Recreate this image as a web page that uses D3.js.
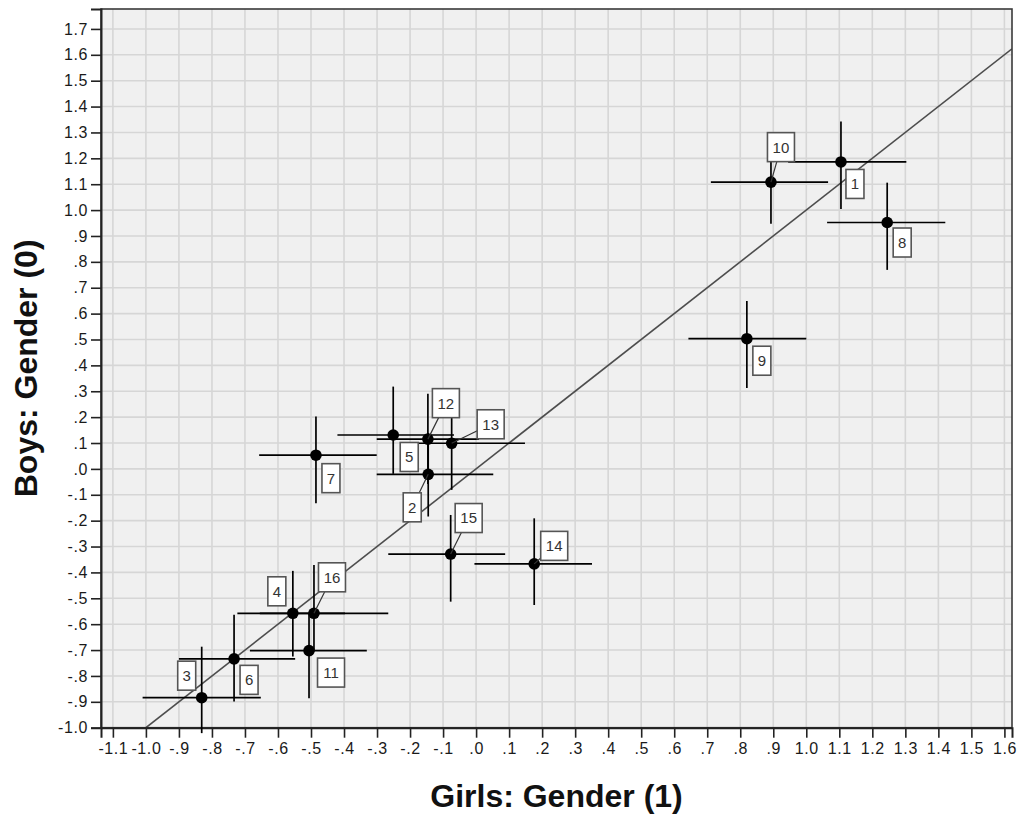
<!DOCTYPE html>
<html>
<head>
<meta charset="utf-8">
<script src="https://cdn.jsdelivr.net/npm/d3@7"></script>
<style>
  html, body { margin: 0; padding: 0; background: #ffffff; }
  svg { display: block; }
  text { font-family: Arial, "Liberation Sans", sans-serif; }
</style>
</head>
<body>
<svg id="chart" width="1017" height="816"></svg>
<script>
// Item identifiers (one marker per item)
const items = [1, 2, 3, 4, 5, 6, 7, 8, 9, 10, 11, 12, 13, 14, 15, 16];

// Estimates for girls (x) and boys (y)
const girls = [1.105, -0.145, -0.831, -0.555, -0.251, -0.733, -0.485, 1.245, 0.820, 0.893, -0.506, -0.146, -0.074, 0.176, -0.077, -0.491];
const boys  = [1.186, -0.021, -0.884, -0.558, 0.131, -0.734, 0.053, 0.952, 0.503, 1.108, -0.702, 0.115, 0.099, -0.367, -0.329, -0.558];

// Interval limits for girls
const girlsLow  = [0.945, -0.301, -1.010, -0.723, -0.420, -0.900, -0.657, 1.063, 0.643, 0.711, -0.685, -0.301, -0.230, -0.005, -0.266, -0.655];
const girlsHigh = [1.303, 0.052, -0.652, -0.397, -0.067, -0.548, -0.301, 1.421, 1.000, 1.066, -0.331, 0.009, 0.148, 0.351, 0.088, -0.266];

// Interval limits for boys
const boysLow  = [1.004, -0.184, -1.021, -0.725, -0.019, -0.899, -0.133, 0.769, 0.313, 0.947, -0.886, -0.058, -0.081, -0.526, -0.513, -0.706];
const boysHigh = [1.342, 0.139, -0.687, -0.394, 0.318, -0.564, 0.202, 1.106, 0.649, 1.284, -0.557, 0.290, 0.234, -0.191, -0.178, -0.371];

// Axis ticks and their labels
const xTicks = [-1.1, -1.0, -0.9, -0.8, -0.7, -0.6, -0.5, -0.4, -0.3, -0.2, -0.1, 0.0, 0.1, 0.2, 0.3, 0.4, 0.5, 0.6, 0.7, 0.8, 0.9, 1.0, 1.1, 1.2, 1.3, 1.4, 1.5, 1.6];
const xTickLabels = ["-1.1", "-1.0", "-.9", "-.8", "-.7", "-.6", "-.5", "-.4", "-.3", "-.2", "-.1", ".0", ".1", ".2", ".3", ".4", ".5", ".6", ".7", ".8", ".9", "1.0", "1.1", "1.2", "1.3", "1.4", "1.5", "1.6"];
const yTicks = [-1.0, -0.9, -0.8, -0.7, -0.6, -0.5, -0.4, -0.3, -0.2, -0.1, 0.0, 0.1, 0.2, 0.3, 0.4, 0.5, 0.6, 0.7, 0.8, 0.9, 1.0, 1.1, 1.2, 1.3, 1.4, 1.5, 1.6, 1.7];
const yTickLabels = ["-1.0", "-.9", "-.8", "-.7", "-.6", "-.5", "-.4", "-.3", "-.2", "-.1", ".0", ".1", ".2", ".3", ".4", ".5", ".6", ".7", ".8", ".9", "1.0", "1.1", "1.2", "1.3", "1.4", "1.5", "1.6", "1.7"];

const xTitle = "Girls: Gender (1)";
const yTitle = "Boys: Gender (0)";

// Label placement: box centre offset from the marker (px), and whether a leader line is drawn
const labelLayout = {
  1: [14, 22, false], 2: [-16, 33, true], 3: [-15, -22, false], 4: [-16, -22, false],
  5: [16, 22, false], 6: [15, 21, false], 7: [15, 23, false], 8: [15, 20, false],
  9: [15, 22, false], 10: [10, -35, true], 11: [22, 22, false], 12: [18, -36, true],
  13: [39, -19, true], 14: [20, -18, true], 15: [18, -36, true], 16: [18, -36, true]
};

const svg = d3.select("#chart");
const plot = { left: 101, top: 9, right: 1012, bottom: 727.7 };

const x = d3.scaleLinear().domain([-1.136, 1.623]).range([plot.left, plot.right]);
const y = d3.scaleLinear().domain([-1.0, 1.777]).range([plot.bottom, plot.top]);

const rows = items.map((id, i) => ({
  id, gx: girls[i], by: boys[i],
  gl: girlsLow[i], gh: girlsHigh[i], bl: boysLow[i], bh: boysHigh[i]
}));

// Plot background
svg.append("rect")
  .attr("x", plot.left).attr("y", plot.top)
  .attr("width", plot.right - plot.left).attr("height", plot.bottom - plot.top)
  .attr("fill", "#f0f0f0");

svg.append("clipPath").attr("id", "plotClip").append("rect")
  .attr("x", plot.left).attr("y", plot.top)
  .attr("width", plot.right - plot.left).attr("height", plot.bottom - plot.top);

// Grid
const grid = svg.append("g").attr("stroke", "#d6d6d6").attr("stroke-width", 1.6);
grid.selectAll("line.gx").data(xTicks).join("line").attr("class", "gx")
  .attr("x1", d => x(d)).attr("x2", d => x(d))
  .attr("y1", plot.top).attr("y2", plot.bottom);
grid.selectAll("line.gy").data(yTicks).join("line").attr("class", "gy")
  .attr("y1", d => y(d)).attr("y2", d => y(d))
  .attr("x1", plot.left).attr("x2", plot.right);

// Identity reference line
svg.append("line")
  .attr("clip-path", "url(#plotClip)")
  .attr("x1", x(-1.0)).attr("y1", y(-1.0))
  .attr("x2", x(1.623)).attr("y2", y(1.623))
  .attr("stroke", "#4d4d4d").attr("stroke-width", 1.6);

// Frame
svg.append("rect")
  .attr("x", plot.left).attr("y", plot.top)
  .attr("width", plot.right - plot.left).attr("height", plot.bottom - plot.top)
  .attr("fill", "none").attr("stroke", "#3a3a3a").attr("stroke-width", 1.6);

// Axes
const xAxis = d3.axisBottom(x).tickValues(xTicks)
  .tickFormat((d, i) => xTickLabels[i]).tickSize(10).tickPadding(5);
const yAxis = d3.axisLeft(y).tickValues(yTicks)
  .tickFormat((d, i) => yTickLabels[i]).tickSize(10).tickPadding(3);

const gx = svg.append("g").attr("transform", `translate(0,${plot.bottom})`).call(xAxis);
const gy = svg.append("g").attr("transform", `translate(${plot.left},0)`).call(yAxis);
[gx, gy].forEach(g => {
  g.select(".domain").attr("stroke", "#222").attr("stroke-width", 2);
  g.selectAll(".tick line").attr("stroke", "#222").attr("stroke-width", 1.6);
  g.selectAll(".tick text").attr("fill", "#1a1a1a").style("font-size", "16px")
    .attr("letter-spacing", "0.6px")
    .style("font-family", "Arial, 'Liberation Sans', sans-serif");
});

// Error bars
const bars = svg.append("g").attr("stroke", "#000").attr("stroke-width", 1.7);
bars.selectAll("line.h").data(rows).join("line").attr("class", "h")
  .attr("x1", d => x(d.gl)).attr("x2", d => x(d.gh))
  .attr("y1", d => y(d.by)).attr("y2", d => y(d.by));
bars.selectAll("line.v").data(rows).join("line").attr("class", "v")
  .attr("x1", d => x(d.gx)).attr("x2", d => x(d.gx))
  .attr("y1", d => y(d.bl)).attr("y2", d => y(d.bh));

// Markers
svg.append("g").selectAll("circle").data(rows).join("circle")
  .attr("cx", d => x(d.gx)).attr("cy", d => y(d.by)).attr("r", 5.8)
  .attr("fill", "#000");

// Labels
const labels = svg.append("g");
rows.forEach(d => {
  const [dx, dy, leader] = labelLayout[d.id];
  const cx = x(d.gx) + dx, cy = y(d.by) + dy;
  const w = String(d.id).length > 1 ? 27 : 18, h = 29;
  if (leader) {
    labels.append("line")
      .attr("x1", x(d.gx)).attr("y1", y(d.by)).attr("x2", cx).attr("y2", cy)
      .attr("stroke", "#333").attr("stroke-width", 1.2);
  }
  labels.append("rect")
    .attr("x", cx - w / 2).attr("y", cy - h / 2).attr("width", w).attr("height", h)
    .attr("fill", "#fff").attr("stroke", "#555").attr("stroke-width", 1.6);
  labels.append("text")
    .attr("x", cx).attr("y", cy).attr("dy", "0.36em")
    .attr("text-anchor", "middle").attr("fill", "#333")
    .style("font-size", "15px").text(d.id);
});

// Axis titles
svg.append("text")
  .attr("x", (plot.left + plot.right) / 2).attr("y", 807)
  .attr("text-anchor", "middle").attr("fill", "#111")
  .style("font-size", "32px").style("font-weight", "bold")
  .text(xTitle);

svg.append("text")
  .attr("transform", `translate(37, ${(plot.top + plot.bottom) / 2}) rotate(-90)`)
  .attr("text-anchor", "middle").attr("fill", "#111")
  .style("font-size", "32px").style("font-weight", "bold")
  .text(yTitle);
</script>
</body>
</html>
